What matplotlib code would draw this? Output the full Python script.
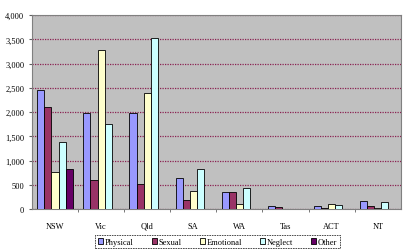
import numpy as np
import matplotlib
matplotlib.use("Agg")
import matplotlib.pyplot as plt

# data
states = ["NSW", "Vic", "Qld", "SA", "WA", "Tas", "ACT", "NT"]
physical = [2450, 1980, 1990, 640, 345, 60, 65, 160]
sexual = [2100, 600, 510, 190, 345, 40, 15, 55]
emotional = [770, 3280, 2390, 370, 115, 0, 115, 30]
neglect = [1380, 1760, 3520, 820, 440, 10, 90, 140]
other = [820, 0, 0, 0, 0, 10, 0, 10]

series = [("Physical", physical, "#9999FF"),
          ("Sexual", sexual, "#993366"),
          ("Emotional", emotional, "#FFFFCC"),
          ("Neglect", neglect, "#CCFFFF"),
          ("Other", other, "#660066")]

plt.rcParams['font.family'] = ['Liberation Serif', 'DejaVu Serif']

fig = plt.figure(figsize=(4.09, 2.51), dpi=100)
ax = fig.add_axes([0.078, 0.163, 0.902, 0.773])
ax.set_facecolor("#C0C0C0")

x = np.arange(len(states))
w = 1.0 / 6.5
for i, (name, vals, col) in enumerate(series):
    ax.bar(x + (i - 2) * w, vals, w, color=col, edgecolor="black",
           linewidth=0.6, label=name, zorder=3)

ax.set_xlim(-0.5, len(states) - 0.5)
ax.set_ylim(0, 4000)
ax.set_yticks(np.arange(0, 4001, 500))
ax.set_yticklabels(["0"] + ["{:,}".format(v) for v in range(500, 4001, 500)])
ax.set_xticks(x)
ax.set_xticklabels(states)
ax.set_xticks(np.arange(0.5, len(states) - 0.5, 1), minor=True)
ax.tick_params(axis="both", labelsize=6, length=2, color="#606060")
ax.tick_params(axis="x", which="minor", length=2, color="#606060")
ax.tick_params(axis="x", which="major", length=0, pad=9)
ax.yaxis.grid(True, color="#8B2252", linestyle=(0, (1, 1)), linewidth=0.9, zorder=1)

for s in ax.spines.values():
    s.set_color("#808080")
    s.set_linestyle((0, (1, 1)))
    s.set_linewidth(0.8)

leg = fig.legend(loc="center", bbox_to_anchor=(0.532, 0.032), ncol=5,
                 fontsize=6, frameon=True, fancybox=False,
                 handlelength=0.6, handleheight=0.6, handletextpad=0.2,
                 columnspacing=2.2, borderpad=0.3, edgecolor="black")
leg.get_frame().set_linestyle((0, (2, 1)))
leg.get_frame().set_linewidth(0.6)

fig.savefig("out.png", dpi=100)
